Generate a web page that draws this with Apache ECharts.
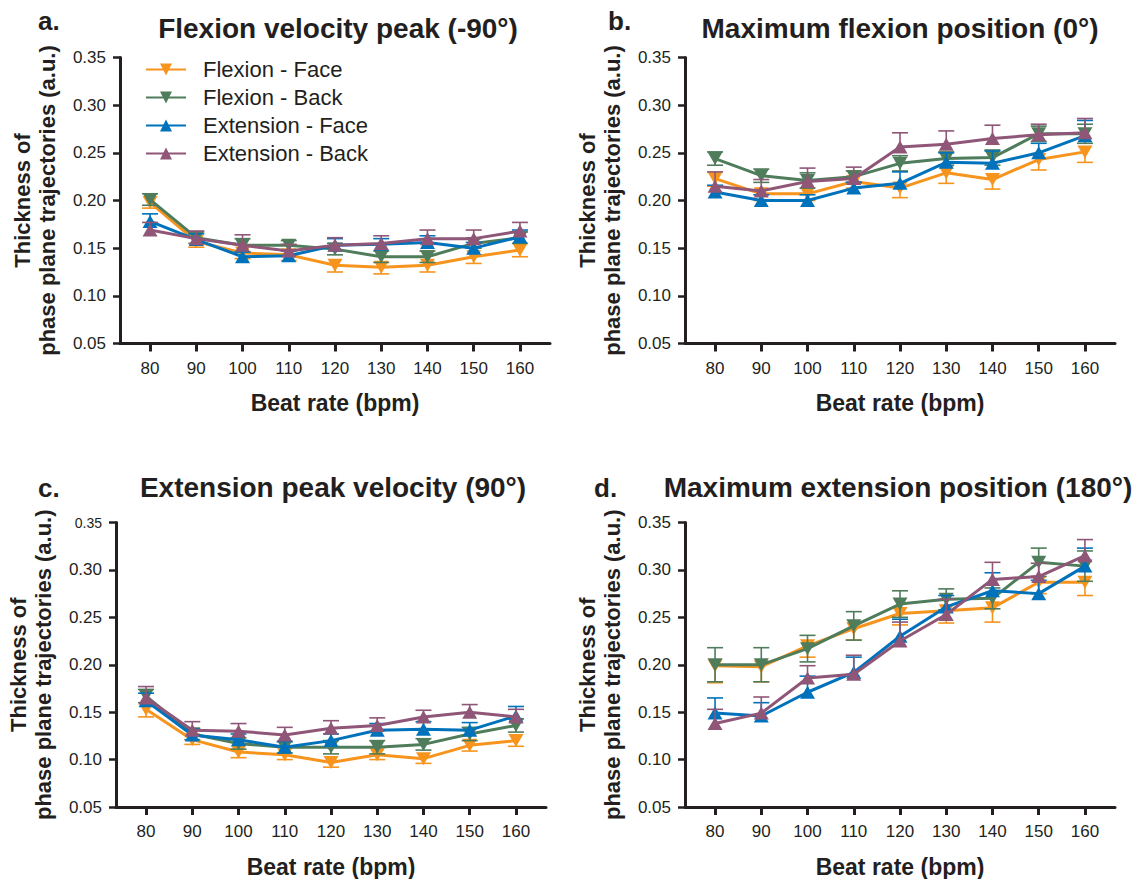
<!DOCTYPE html>
<html>
<head>
<meta charset="utf-8">
<script src="https://cdn.jsdelivr.net/npm/echarts@6/dist/echarts.min.js"></script>
<style>html,body{margin:0;padding:0;background:#fff}#c{width:1133px;height:879px}</style>
</head>
<body>
<div id="c"></div>
<script>
// ---- data ----
const rates = [80, 90, 100, 110, 120, 130, 140, 150, 160];
const yTicks = [0.05, 0.10, 0.15, 0.20, 0.25, 0.30, 0.35];
const seriesNames = ['Flexion - Face', 'Flexion - Back', 'Extension - Face', 'Extension - Back'];
const panelTitles = ['Flexion velocity peak (-90°)', 'Maximum flexion position (0°)', 'Extension peak velocity (90°)', 'Maximum extension position (180°)'];
const panelLetters = ['a.', 'b.', 'c.', 'd.'];

// Panel a
const aFlexFace = [0.198, 0.157, 0.145, 0.143, 0.132, 0.130, 0.132, 0.141, 0.148];
const aFlexFaceErr = [0.006, 0.006, 0.006, 0.006, 0.007, 0.007, 0.007, 0.007, 0.007];
const aFlexBack = [0.201, 0.161, 0.153, 0.153, 0.149, 0.141, 0.141, 0.155, 0.161];
const aFlexBackErr = [0.006, 0.006, 0.007, 0.005, 0.006, 0.006, 0.006, 0.005, 0.006];
const aExtFace = [0.178, 0.159, 0.141, 0.142, 0.153, 0.154, 0.156, 0.150, 0.162];
const aExtFaceErr = [0.008, 0.006, 0.005, 0.005, 0.007, 0.006, 0.007, 0.006, 0.007];
const aExtBack = [0.169, 0.160, 0.153, 0.147, 0.153, 0.155, 0.160, 0.160, 0.168];
const aExtBackErr = [0.008, 0.008, 0.011, 0.007, 0.008, 0.008, 0.009, 0.009, 0.009];

// Panel b
const bFlexFace = [0.223, 0.207, 0.207, 0.220, 0.213, 0.229, 0.222, 0.243, 0.251];
const bFlexFaceErr = [0.008, 0.007, 0.007, 0.007, 0.010, 0.011, 0.010, 0.011, 0.011];
const bFlexBack = [0.244, 0.226, 0.221, 0.225, 0.239, 0.244, 0.245, 0.270, 0.270];
const bFlexBackErr = [0.007, 0.007, 0.008, 0.006, 0.008, 0.007, 0.008, 0.008, 0.010];
const bExtFace = [0.209, 0.200, 0.200, 0.213, 0.218, 0.240, 0.239, 0.250, 0.268];
const bExtFaceErr = [0.007, 0.006, 0.006, 0.006, 0.012, 0.010, 0.013, 0.010, 0.016];
const bExtBack = [0.215, 0.210, 0.220, 0.223, 0.256, 0.259, 0.265, 0.269, 0.271];
const bExtBackErr = [0.015, 0.012, 0.014, 0.012, 0.015, 0.014, 0.014, 0.011, 0.015];

// Panel c
const cFlexFace = [0.153, 0.121, 0.108, 0.105, 0.097, 0.105, 0.101, 0.115, 0.120];
const cFlexFaceErr = [0.008, 0.005, 0.006, 0.005, 0.005, 0.005, 0.005, 0.006, 0.006];
const cFlexBack = [0.167, 0.127, 0.117, 0.113, 0.113, 0.113, 0.116, 0.127, 0.136];
const cFlexBackErr = [0.007, 0.006, 0.006, 0.006, 0.007, 0.007, 0.006, 0.007, 0.007];
const cExtFace = [0.162, 0.126, 0.121, 0.113, 0.120, 0.131, 0.132, 0.131, 0.146];
const cExtFaceErr = [0.008, 0.006, 0.006, 0.006, 0.007, 0.007, 0.008, 0.008, 0.010];
const cExtBack = [0.165, 0.131, 0.130, 0.126, 0.133, 0.136, 0.145, 0.150, 0.145];
const cExtBackErr = [0.012, 0.009, 0.008, 0.008, 0.008, 0.008, 0.007, 0.008, 0.008];

// Panel d
const dFlexFace = [0.199, 0.198, 0.220, 0.238, 0.254, 0.257, 0.260, 0.287, 0.287];
const dFlexFaceErr = [0.018, 0.016, 0.012, 0.012, 0.012, 0.013, 0.015, 0.012, 0.014];
const dFlexBack = [0.200, 0.200, 0.217, 0.241, 0.264, 0.269, 0.270, 0.308, 0.304];
const dFlexBackErr = [0.018, 0.018, 0.014, 0.015, 0.014, 0.011, 0.011, 0.015, 0.016];
const dExtFace = [0.149, 0.146, 0.171, 0.192, 0.230, 0.261, 0.278, 0.275, 0.304];
const dExtFaceErr = [0.016, 0.014, 0.017, 0.016, 0.018, 0.012, 0.019, 0.014, 0.019];
const dExtBack = [0.138, 0.149, 0.186, 0.190, 0.225, 0.253, 0.290, 0.293, 0.315];
const dExtBackErr = [0.015, 0.017, 0.013, 0.020, 0.020, 0.016, 0.018, 0.014, 0.017];

// ---- styling ----
const FONT = "'Liberation Sans', Arial, Helvetica, sans-serif";
const INK = '#231f20';
const colors = ['#f7941d', '#4f7c5b', '#0072bc', '#8f5677'];
const symbolRot = [180, 180, 0, 0];
const errDir = ['down', 'both', 'up', 'up'];

const panelValues = [
  [aFlexFace, aFlexBack, aExtFace, aExtBack],
  [bFlexFace, bFlexBack, bExtFace, bExtBack],
  [cFlexFace, cFlexBack, cExtFace, cExtBack],
  [dFlexFace, dFlexBack, dExtFace, dExtBack]
];
const panelErrors = [
  [aFlexFaceErr, aFlexBackErr, aExtFaceErr, aExtBackErr],
  [bFlexFaceErr, bFlexBackErr, bExtFaceErr, bExtBackErr],
  [cFlexFaceErr, cFlexBackErr, cExtFaceErr, cExtBackErr],
  [dFlexFaceErr, dFlexBackErr, dExtFaceErr, dExtBackErr]
];

const grids = [
  { left: 120, top: 57.5, width: 430, height: 286 },
  { left: 685, top: 57.5, width: 430, height: 286 },
  { left: 116, top: 522.5, width: 430, height: 286 },
  { left: 685, top: 522.5, width: 430, height: 286 }
];
const titlePos = [[338, 28], [900, 28], [333, 487], [898, 487]];
const letterPos = [[38, 21], [608, 21], [38, 488], [594, 488]];

const xAxes = [], yAxes = [], series = [], graphics = [];
grids.forEach((g, p) => {
  xAxes.push({
    type: 'value', gridIndex: p, min: 73.5, max: 166.5,
    name: 'Beat rate (bpm)', nameLocation: 'middle', nameGap: 48,
    nameTextStyle: { fontFamily: FONT, fontSize: 23, fontWeight: 'bold', color: INK },
    axisLine: { show: true, onZero: false, lineStyle: { color: INK, width: 3 } },
    axisTick: { show: true, customValues: rates, length: 8, lineStyle: { color: INK, width: 3 } },
    axisLabel: { customValues: rates, margin: 16, fontFamily: FONT, fontSize: 17, color: INK },
    splitLine: { show: false }
  });
  yAxes.push({
    type: 'value', gridIndex: p, min: 0.05, max: 0.35, interval: 0.05,
    name: 'Thickness of\nphase plane trajectories (a.u.)', nameLocation: 'middle', nameGap: 60,
    nameTextStyle: { fontFamily: FONT, fontSize: 22, fontWeight: 'bold', color: INK, lineHeight: 25, align: 'center' },
    axisLine: { show: true, onZero: false, lineStyle: { color: INK, width: 3 } },
    axisTick: { show: true, length: 7, lineStyle: { color: INK, width: 2.5 } },
    axisLabel: {
      margin: 14, fontFamily: FONT, fontSize: 17, color: INK,
      formatter: v => (p === 2 && Math.abs(v - 0.35) < 1e-9) ? '{s|0.35}' : v.toFixed(2),
      rich: { s: { fontFamily: FONT, fontSize: 14, color: INK } }
    },
    splitLine: { show: false }
  });
  graphics.push({
    type: 'text', x: titlePos[p][0], y: titlePos[p][1],
    style: { text: panelTitles[p], font: `bold 28px ${FONT}`, fill: INK, textAlign: 'center', textVerticalAlign: 'middle' }
  });
  graphics.push({
    type: 'text', x: letterPos[p][0], y: letterPos[p][1],
    style: { text: panelLetters[p], font: `bold 26px ${FONT}`, fill: INK, textAlign: 'left', textVerticalAlign: 'middle' }
  });
  for (let s = 0; s < 4; s++) {
    const vals = panelValues[p][s], errs = panelErrors[p][s];
    const color = colors[s], dir = errDir[s];
    series.push({
      type: 'custom', name: seriesNames[s] + ' SEM', xAxisIndex: p, yAxisIndex: p,
      z: 2 + 2 * s, silent: true,
      data: rates.map((r, i) => [r, vals[i], errs[i]]),
      renderItem: (params, api) => {
        const x = api.value(0), y = api.value(1), e = api.value(2);
        const c = api.coord([x, y]);
        const hi = api.coord([x, y + e]);
        const lo = api.coord([x, y - e]);
        const half = 8;
        const st = { stroke: color, lineWidth: 1.6, fill: null };
        const ch = [];
        if (dir !== 'down') {
          ch.push({ type: 'line', shape: { x1: c[0], y1: c[1], x2: hi[0], y2: hi[1] }, style: st });
          ch.push({ type: 'line', shape: { x1: hi[0] - half, y1: hi[1], x2: hi[0] + half, y2: hi[1] }, style: st });
        }
        if (dir !== 'up') {
          ch.push({ type: 'line', shape: { x1: c[0], y1: c[1], x2: lo[0], y2: lo[1] }, style: st });
          ch.push({ type: 'line', shape: { x1: lo[0] - half, y1: lo[1], x2: lo[0] + half, y2: lo[1] }, style: st });
        }
        return { type: 'group', children: ch };
      }
    });
    series.push({
      type: 'line', name: seriesNames[s], xAxisIndex: p, yAxisIndex: p,
      z: 3 + 2 * s,
      data: rates.map((r, i) => [r, vals[i]]),
      symbol: 'triangle', symbolSize: [15, 13], symbolRotate: symbolRot[s],
      showAllSymbol: true,
      lineStyle: { color: color, width: 3 },
      itemStyle: { color: color, borderWidth: 0 },
      emphasis: { disabled: true },
      animation: false
    });
  }
});

const chart = echarts.init(document.getElementById('c'), null, { renderer: 'svg' });
chart.setOption({
  animation: false,
  backgroundColor: '#ffffff',
  textStyle: { fontFamily: FONT },
  grid: grids,
  xAxis: xAxes,
  yAxis: yAxes,
  legend: {
    data: seriesNames, orient: 'vertical', left: 140, top: 53,
    itemWidth: 40, itemHeight: 15, itemGap: 5,
    selectedMode: false,
    textStyle: { fontFamily: FONT, fontSize: 22, color: INK, lineHeight: 23, padding: [0, 0, 0, 12] }
  },
  graphic: graphics,
  series: series
});
</script>
</body>
</html>
